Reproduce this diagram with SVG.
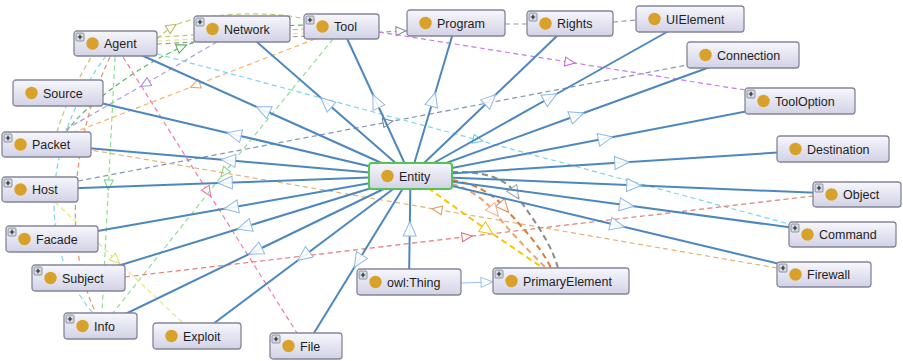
<svg xmlns="http://www.w3.org/2000/svg" xmlns:xlink="http://www.w3.org/1999/xlink" width="903" height="361" viewBox="0 0 903 361">
  <defs>
    <linearGradient id="boxfill" x1="0" y1="0" x2="0" y2="1">
      <stop offset="0" stop-color="#f7f7fc"/>
      <stop offset="1" stop-color="#d2d2e6"/>
    </linearGradient>
    <style>
      .box{fill:url(#boxfill);stroke:#85859a;stroke-width:1.3}
      .focus{fill:url(#boxfill);stroke:#55c455;stroke-width:2}
      .dot{fill:#d8a22a}
      .lbl{font-family:"Liberation Sans",Arial,sans-serif;font-size:12.5px;fill:#1e1e1e}
      .isa{fill:none;stroke:#4d87bf;stroke-width:2;marker-mid:url(#mk-isa)}
      .sub2{fill:none;stroke:#9cc0e4;stroke-width:1.2}
      .rel{fill:none;stroke-width:1.2;stroke-dasharray:5 3.5}
      .thick{stroke-width:2;stroke-dasharray:6 4}
      .c-olive{stroke:#c2c276}
      .c-ltyellow{stroke:#e2e28c}
      .c-gray{stroke:#9a9a9a}
      .c-green{stroke:#5cb85c}
      .c-lav{stroke:#b39ae8}
      .c-orange{stroke:#f5b464}
      .c-cyan{stroke:#7fd6e6}
      .c-brown{stroke:#e0946a}
      .c-lgreen{stroke:#8fe08f}
      .c-pink{stroke:#f07aa8}
      .c-yellow{stroke:#e8e878}
      .c-steel{stroke:#7f94b4}
      .c-tan{stroke:#e0b478}
      .c-red{stroke:#e67a7a}
      .c-purple{stroke:#cc78e8}
      .c-gold{stroke:#f7c600}
      .c-dorange{stroke:#e07a30}
      .c-lorange{stroke:#eca070}
      .c-dgray{stroke:#8a8a8a}
      .tri{fill:#fff;fill-opacity:0.9;stroke-width:1;stroke-dasharray:none}
    </style>
    <!-- subclass arrowhead, centred on the edge midpoint -->
    <marker id="mk-isa" markerUnits="userSpaceOnUse" viewBox="-8 -8 16 16" markerWidth="16" markerHeight="16" refX="0" refY="0" orient="auto">
      <path class="tri" d="M-7,-6.5 L7.5,0 L-7,6.5 Z" stroke="#8fb8e0"/>
    </marker>
    <marker id="mk-sub" markerUnits="userSpaceOnUse" viewBox="-13 -6 14 12" markerWidth="14" markerHeight="12" refX="0" refY="0" orient="auto">
      <path class="tri" d="M-12,-5 L0,0 L-12,5 Z" stroke="#9cc0e4"/>
    </marker>
    <!-- property arrowheads, one per edge colour -->
    <marker id="mk-olive" markerUnits="userSpaceOnUse" viewBox="-7 -7 14 14" markerWidth="14" markerHeight="14" orient="auto"><path class="tri" d="M-5,-4.5 L5,0 L-5,4.5 Z" stroke="#b4b460"/></marker>
    <marker id="mk-gray" markerUnits="userSpaceOnUse" viewBox="-7 -7 14 14" markerWidth="14" markerHeight="14" orient="auto"><path class="tri" d="M-5,-4.5 L5,0 L-5,4.5 Z" stroke="#8a8a8a"/></marker>
    <marker id="mk-green" markerUnits="userSpaceOnUse" viewBox="-7 -7 14 14" markerWidth="14" markerHeight="14" orient="auto"><path class="tri" d="M-5,-4.5 L5,0 L-5,4.5 Z" stroke="#4caa4c"/></marker>
    <marker id="mk-lav" markerUnits="userSpaceOnUse" viewBox="-7 -7 14 14" markerWidth="14" markerHeight="14" orient="auto"><path class="tri" d="M-5,-4.5 L5,0 L-5,4.5 Z" stroke="#a38ae0"/></marker>
    <marker id="mk-orange" markerUnits="userSpaceOnUse" viewBox="-7 -7 14 14" markerWidth="14" markerHeight="14" orient="auto"><path class="tri" d="M-5,-4.5 L5,0 L-5,4.5 Z" stroke="#f0a850"/></marker>
    <marker id="mk-lgreen" markerUnits="userSpaceOnUse" viewBox="-7 -7 14 14" markerWidth="14" markerHeight="14" orient="auto"><path class="tri" d="M-5,-4.5 L5,0 L-5,4.5 Z" stroke="#7ad47a"/></marker>
    <marker id="mk-pink" markerUnits="userSpaceOnUse" viewBox="-7 -7 14 14" markerWidth="14" markerHeight="14" orient="auto"><path class="tri" d="M-5,-4.5 L5,0 L-5,4.5 Z" stroke="#ec6a9c"/></marker>
    <marker id="mk-yellow" markerUnits="userSpaceOnUse" viewBox="-7 -7 14 14" markerWidth="14" markerHeight="14" orient="auto"><path class="tri" d="M-5,-4.5 L5,0 L-5,4.5 Z" stroke="#dede60"/></marker>
    <marker id="mk-steel" markerUnits="userSpaceOnUse" viewBox="-7 -7 14 14" markerWidth="14" markerHeight="14" orient="auto"><path class="tri" d="M-5,-4.5 L5,0 L-5,4.5 Z" stroke="#6c82a4"/></marker>
    <marker id="mk-cyan" markerUnits="userSpaceOnUse" viewBox="-7 -7 14 14" markerWidth="14" markerHeight="14" orient="auto"><path class="tri" d="M-5,-4.5 L5,0 L-5,4.5 Z" stroke="#6ccce0"/></marker>
    <marker id="mk-tan" markerUnits="userSpaceOnUse" viewBox="-7 -7 14 14" markerWidth="14" markerHeight="14" orient="auto"><path class="tri" d="M-5,-4.5 L5,0 L-5,4.5 Z" stroke="#d0a060"/></marker>
    <marker id="mk-red" markerUnits="userSpaceOnUse" viewBox="-7 -7 14 14" markerWidth="14" markerHeight="14" orient="auto"><path class="tri" d="M-5,-4.5 L5,0 L-5,4.5 Z" stroke="#e06464"/></marker>
    <marker id="mk-purple" markerUnits="userSpaceOnUse" viewBox="-7 -7 14 14" markerWidth="14" markerHeight="14" orient="auto"><path class="tri" d="M-5,-4.5 L5,0 L-5,4.5 Z" stroke="#c064e0"/></marker>
    <marker id="mk-gold" markerUnits="userSpaceOnUse" viewBox="-8 -8 16 16" markerWidth="16" markerHeight="16" orient="auto"><path class="tri" d="M-6,-6 L7,0 L-6,6 Z" stroke="#f2c200"/></marker>
    <marker id="mk-dorange" markerUnits="userSpaceOnUse" viewBox="-8 -8 16 16" markerWidth="16" markerHeight="16" orient="auto"><path class="tri" d="M-6,-6 L7,0 L-6,6 Z" stroke="#e08a50"/></marker>
    <marker id="mk-lorange" markerUnits="userSpaceOnUse" viewBox="-8 -8 16 16" markerWidth="16" markerHeight="16" orient="auto"><path class="tri" d="M-6,-6 L7,0 L-6,6 Z" stroke="#f0b088"/></marker>
    <marker id="mk-dgray" markerUnits="userSpaceOnUse" viewBox="-8 -8 16 16" markerWidth="16" markerHeight="16" orient="auto"><path class="tri" d="M-6,-6 L7,0 L-6,6 Z" stroke="#a0a0a0"/></marker>
    <!-- expand toggle shown on collapsible classes -->
    <g id="plus">
      <rect x="2" y="2" width="8" height="8" rx="1" fill="#d6dde6" stroke="#7a828c" stroke-width="0.8"/>
      <path d="M3.8,6 H8.2 M6,3.8 V8.2" stroke="#222" stroke-width="1.2"/>
    </g>
  </defs>

  <rect width="903" height="361" fill="#fff"/>

  <g id="connectors">
    <!-- object property edges -->
    <g id="properties">
      <path class="rel c-olive" d="M157,39 Q164,32 172,27 C195,13 270,10 305,19" marker-mid="url(#mk-olive)"/>
      <path class="rel c-olive" d="M157,37 L304,29"/>
      <path class="rel c-ltyellow" d="M157,41 L304,33"/>
      <path class="rel c-gray" d="M157,44 L401,31 L407,30.7" marker-mid="url(#mk-gray)"/>
      <path class="rel c-green" d="M66,132 C85,105 140,65 182,47 C215,33 260,26 304,25" marker-mid="url(#mk-green)"/>
      <path class="rel c-lav" d="M217,42 L145,84 L63,131" marker-mid="url(#mk-lav)"/>
      <path class="rel c-orange" d="M315,39 L195,85.5 L75,132" marker-mid="url(#mk-orange)"/>
      <path class="rel c-olive" d="M57,132 Q68,95 92,56"/>
      <path class="rel c-cyan" d="M106,56 C50,130 30,240 93,313"/>
      <path class="rel c-brown" d="M110,57 C75,130 60,240 96,313"/>
      <path class="rel c-lgreen" d="M115,57 L108.5,185 L102,313" marker-mid="url(#mk-lgreen)"/>
      <path class="rel c-pink" d="M123,57 L208,192 L297,333" marker-mid="url(#mk-pink)"/>
      <path class="rel c-lgreen" d="M333,39 L224,173 L113,313" marker-mid="url(#mk-lgreen)"/>
      <path class="rel c-yellow" d="M55,202 L116,260 L183,323" marker-mid="url(#mk-yellow)"/>
      <path class="rel c-steel" d="M78,181 L388,122 L687,65" marker-mid="url(#mk-steel)"/>
      <path class="rel c-cyan" d="M157,54 L478,140 L789,224" marker-mid="url(#mk-cyan)"/>
      <path class="rel c-tan" d="M777,268 L437,209.5 L91,150" marker-mid="url(#mk-tan)"/>
      <path class="rel c-red" d="M125,277 L467,236.7 L813,196" marker-mid="url(#mk-red)"/>
      <path class="rel c-purple" d="M379,32 L570,62.3 L745,90" marker-mid="url(#mk-purple)"/>
      <path class="rel c-gray" d="M505,24 L527,24"/>
      <path class="rel c-gray" d="M613,22 L636,20"/>
      <!-- Entity to PrimaryElement -->
      <path class="rel thick c-gold" d="M428,188 L487,230 L543,268" marker-mid="url(#mk-gold)"/>
      <path class="rel thick c-dorange" d="M452,180 C475,184 492,193 504,207 C520,225 540,245 551,268" marker-mid="url(#mk-dorange)"/>
      <path class="rel thick c-lorange" d="M452,184 C470,189 483,199 494,211 C508,230 528,250 546,268" marker-mid="url(#mk-lorange)"/>
      <path class="rel thick c-dgray" d="M452,172 C487,171 507,180 515,193 C532,218 550,240 558,268" marker-mid="url(#mk-dgray)"/>
    </g>
    <!-- subclass edges -->
    <g id="subclasses">
      <path class="isa" d="M410.5,176 L263,109.75 L115.5,43.5"/>
      <path class="isa" d="M410.5,176 L326.25,102.5 L242,29"/>
      <path class="isa" d="M410.5,176 L376,101.25 L341.5,26.5"/>
      <path class="isa" d="M410.5,176 L433.25,99.5 L456,23"/>
      <path class="isa" d="M410.5,176 L490.25,99.75 L570,23.5"/>
      <path class="isa" d="M410.5,176 L550.25,97.5 L690,19"/>
      <path class="isa" d="M410.5,176 L576.75,115.5 L743,55"/>
      <path class="isa" d="M410.5,176 L605.25,138.5 L800,101"/>
      <path class="isa" d="M410.5,176 L621.75,162.5 L833,149"/>
      <path class="isa" d="M410.5,176 L633.75,185.25 L857,194.5"/>
      <path class="isa" d="M410.5,176 L626.5,205.25 L842.5,234.5"/>
      <path class="isa" d="M410.5,176 L617.25,225.25 L824,274.5"/>
      <path class="isa" d="M410.5,176 L358.25,261 L306,346"/>
      <path class="isa" d="M410.5,176 L303.75,256 L197,336"/>
      <path class="isa" d="M410.5,176 L255.5,251 L100.5,326"/>
      <path class="isa" d="M410.5,176 L244.5,227 L78.5,278"/>
      <path class="isa" d="M410.5,176 L231.25,207.5 L52,239"/>
      <path class="isa" d="M410.5,176 L225.25,182.75 L40,189.5"/>
      <path class="isa" d="M410.5,176 L228.5,160.25 L46.5,144.5"/>
      <path class="isa" d="M410.5,176 L234.25,134.5 L58,93"/>
      <path class="isa" d="M409,282 L409.75,229 L410.5,176"/>
      <path class="sub2" d="M461,283 L493,282" marker-end="url(#mk-sub)"/>
    </g>
  </g>

  <g id="n-agent" transform="translate(74,31)"><rect class="box" width="83" height="25" rx="3"/><use xlink:href="#plus"/><circle class="dot" cx="18.5" cy="12.5" r="6.2"/><text class="lbl" x="30" y="17">Agent</text></g>
  <g id="n-network" transform="translate(194,16)"><rect class="box" width="96" height="26" rx="3"/><use xlink:href="#plus"/><circle class="dot" cx="18.5" cy="13" r="6.2"/><text class="lbl" x="30" y="17.5">Network</text></g>
  <g id="n-tool" transform="translate(304,14)"><rect class="box" width="75" height="25" rx="3"/><use xlink:href="#plus"/><circle class="dot" cx="18.5" cy="12.5" r="6.2"/><text class="lbl" x="30" y="17">Tool</text></g>
  <g id="n-program" transform="translate(407,10)"><rect class="box" width="98" height="26" rx="3"/><circle class="dot" cx="18.5" cy="13" r="6.2"/><text class="lbl" x="30" y="17.5">Program</text></g>
  <g id="n-rights" transform="translate(527,11)"><rect class="box" width="86" height="25" rx="3"/><use xlink:href="#plus"/><circle class="dot" cx="18.5" cy="12.5" r="6.2"/><text class="lbl" x="30" y="17">Rights</text></g>
  <g id="n-uielement" transform="translate(636,6)"><rect class="box" width="108" height="26" rx="3"/><circle class="dot" cx="18.5" cy="13" r="6.2"/><text class="lbl" x="30" y="17.5">UIElement</text></g>
  <g id="n-connection" transform="translate(687,42)"><rect class="box" width="112" height="26" rx="3"/><circle class="dot" cx="18.5" cy="13" r="6.2"/><text class="lbl" x="30" y="17.5">Connection</text></g>
  <g id="n-tooloption" transform="translate(745,88)"><rect class="box" width="110" height="26" rx="3"/><use xlink:href="#plus"/><circle class="dot" cx="18.5" cy="13" r="6.2"/><text class="lbl" x="30" y="17.5">ToolOption</text></g>
  <g id="n-destination" transform="translate(777,136)"><rect class="box" width="112" height="26" rx="3"/><circle class="dot" cx="18.5" cy="13" r="6.2"/><text class="lbl" x="30" y="17.5">Destination</text></g>
  <g id="n-object" transform="translate(813,182)"><rect class="box" width="88" height="25" rx="3"/><use xlink:href="#plus"/><circle class="dot" cx="18.5" cy="12.5" r="6.2"/><text class="lbl" x="30" y="17">Object</text></g>
  <g id="n-command" transform="translate(789,222)"><rect class="box" width="107" height="25" rx="3"/><use xlink:href="#plus"/><circle class="dot" cx="18.5" cy="12.5" r="6.2"/><text class="lbl" x="30" y="17">Command</text></g>
  <g id="n-firewall" transform="translate(777,262)"><rect class="box" width="94" height="25" rx="3"/><use xlink:href="#plus"/><circle class="dot" cx="18.5" cy="12.5" r="6.2"/><text class="lbl" x="30" y="17">Firewall</text></g>
  <g id="n-primaryelement" transform="translate(493,268)"><rect class="box" width="136" height="26" rx="3"/><use xlink:href="#plus"/><circle class="dot" cx="18.5" cy="13" r="6.2"/><text class="lbl" x="30" y="17.5">PrimaryElement</text></g>
  <g id="n-owlthing" transform="translate(357,269)"><rect class="box" width="104" height="26" rx="3"/><use xlink:href="#plus"/><circle class="dot" cx="18.5" cy="13" r="6.2"/><text class="lbl" x="30" y="17.5">owl:Thing</text></g>
  <g id="n-file" transform="translate(270,333)"><rect class="box" width="72" height="26" rx="3"/><use xlink:href="#plus"/><circle class="dot" cx="18.5" cy="13" r="6.2"/><text class="lbl" x="30" y="17.5">File</text></g>
  <g id="n-exploit" transform="translate(153,323)"><rect class="box" width="88" height="26" rx="3"/><circle class="dot" cx="18.5" cy="13" r="6.2"/><text class="lbl" x="30" y="17.5">Exploit</text></g>
  <g id="n-info" transform="translate(64,313)"><rect class="box" width="73" height="26" rx="3"/><use xlink:href="#plus"/><circle class="dot" cx="18.5" cy="13" r="6.2"/><text class="lbl" x="30" y="17.5">Info</text></g>
  <g id="n-subject" transform="translate(32,265)"><rect class="box" width="93" height="26" rx="3"/><use xlink:href="#plus"/><circle class="dot" cx="18.5" cy="13" r="6.2"/><text class="lbl" x="30" y="17.5">Subject</text></g>
  <g id="n-facade" transform="translate(6,226)"><rect class="box" width="92" height="26" rx="3"/><use xlink:href="#plus"/><circle class="dot" cx="18.5" cy="13" r="6.2"/><text class="lbl" x="30" y="17.5">Facade</text></g>
  <g id="n-host" transform="translate(2,177)"><rect class="box" width="76" height="25" rx="3"/><use xlink:href="#plus"/><circle class="dot" cx="18.5" cy="12.5" r="6.2"/><text class="lbl" x="30" y="17">Host</text></g>
  <g id="n-packet" transform="translate(2,132)"><rect class="box" width="89" height="25" rx="3"/><use xlink:href="#plus"/><circle class="dot" cx="18.5" cy="12.5" r="6.2"/><text class="lbl" x="30" y="17">Packet</text></g>
  <g id="n-source" transform="translate(13,80)"><rect class="box" width="90" height="26" rx="3"/><circle class="dot" cx="18.5" cy="13" r="6.2"/><text class="lbl" x="30" y="17.5">Source</text></g>
  <g id="n-entity" transform="translate(369,163)"><rect class="focus" width="83" height="26" rx="3"/><circle class="dot" cx="18.5" cy="13" r="6.2"/><text class="lbl" x="30" y="17.5">Entity</text></g>
</svg>
